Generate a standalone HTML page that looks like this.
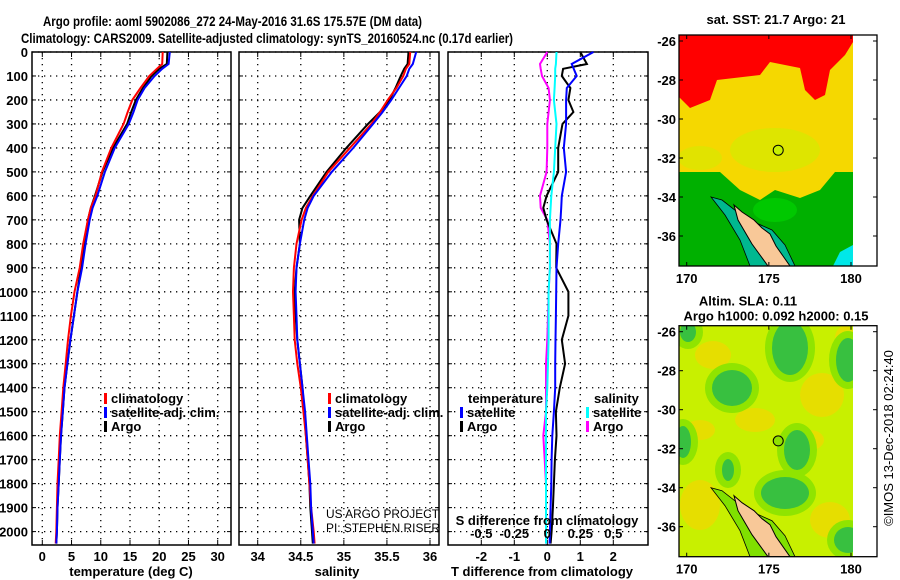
<!DOCTYPE html>
<html><head><meta charset="utf-8"><style>
html,body{margin:0;padding:0;background:#fff;}
svg{display:block;font-family:"Liberation Sans",sans-serif;}
.b{font-weight:bold;}
</style></head><body>
<svg id="fig" width="900" height="580" viewBox="0 0 900 580">
<text x="43" y="26" class="b" font-size="14" textLength="379" lengthAdjust="spacingAndGlyphs">Argo profile: aoml 5902086_272 24-May-2016 31.6S 175.57E (DM data)</text>
<text x="21" y="43" class="b" font-size="14" textLength="492" lengthAdjust="spacingAndGlyphs">Climatology: CARS2009. Satellite-adjusted climatology: synTS_20160524.nc (0.17d earlier)</text>
<g id="panels"></g>
<g id="maps"></g>
<text transform="translate(893,438) rotate(-90)" text-anchor="middle" font-size="13">©IMOS 13-Dec-2018 02:24:40</text>
</svg>
<script>
// ---- data ----
const depths = [0,50,70,100,150,200,250,300,400,500,600,650,700,800,900,1000,1100,1200,1300,1400,1500,1600,1700,1800,1900,2000,2050];
const tempArgo = [21.4,21.3,20.0,18.7,17.2,16.0,15.2,14.5,12.1,10.3,9.0,8.3,7.8,7.2,6.6,6.0,5.4,4.8,4.3,3.8,3.5,3.2,3.0,2.8,2.6,2.5,2.4];
const tempClim = [20.6,20.5,19.6,18.3,16.8,15.4,14.6,13.9,11.8,10.2,9.1,8.3,7.8,7.0,6.4,5.5,4.9,4.4,4.0,3.6,3.3,3.0,2.8,2.6,2.5,2.4,2.3];
const tempSat = [21.8,21.6,20.5,19.2,17.5,16.3,15.6,14.8,12.4,10.7,9.4,8.6,8.1,7.4,6.8,6.0,5.4,4.8,4.3,3.8,3.5,3.2,3.0,2.8,2.6,2.5,2.4];
const salArgo = [35.75,35.74,35.7,35.66,35.6,35.53,35.42,35.28,35.03,34.80,34.61,34.52,34.48,34.49,34.45,34.43,34.44,34.46,34.49,34.52,34.54,34.56,34.58,34.6,34.61,34.63,34.64];
const salClim = [35.77,35.76,35.72,35.69,35.61,35.51,35.42,35.32,35.07,34.82,34.64,34.56,34.51,34.45,34.42,34.41,34.42,34.43,34.46,34.5,34.53,34.56,34.58,34.6,34.62,34.65,34.66];
const salSat = [35.84,35.8,35.76,35.73,35.64,35.55,35.45,35.34,35.11,34.86,34.65,34.58,34.54,34.49,34.45,34.44,34.45,34.46,34.49,34.52,34.55,34.57,34.59,34.61,34.62,34.64,34.65];
const dTsat = [1.4,0.74,0.8,0.89,0.59,0.57,0.57,0.57,0.5,0.57,0.44,0.42,0.4,0.33,0.28,0.27,0.26,0.25,0.24,0.24,0.2,0.15,0.13,0.12,0.1,0.08,0.07];
const dTargo = [1.0,1.2,0.48,0.44,0.7,0.64,0.79,0.46,0.33,0.33,-0.02,-0.12,-0.02,0.28,0.27,0.64,0.64,0.44,0.54,0.38,0.26,0.28,0.23,0.2,0.17,0.13,0.1];
const dSsat = [0.07,0.065,0.06,0.06,0.055,0.05,0.06,0.07,0.06,0.05,0.03,0.025,0.02,0.02,0.02,0.01,0.01,0.01,0.005,0.0,-0.01,-0.01,-0.01,-0.01,-0.01,-0.01,-0.01];
const dSargo = [0.0,-0.055,-0.05,-0.04,0.01,0.02,0.01,0.0,0.0,-0.005,-0.055,-0.05,0.0,0.02,0.02,0.01,0.005,0.0,-0.01,-0.01,-0.01,-0.03,-0.02,-0.01,-0.01,-0.01,-0.01];
const depthTicks = [0,100,200,300,400,500,600,700,800,900,1000,1100,1200,1300,1400,1500,1600,1700,1800,1900,2000];
const tempTicks = [0,5,10,15,20,25,30];
const salTicks = [34,34.5,35,35.5,36];
const dTTicks = [-2,-1,0,1,2];
const dSTicks = [-0.5,-0.25,0,0.25,0.5];
const latTicks = [-26,-28,-30,-32,-34,-36];
const lonTicks = [170,175,180];

const NS="http://www.w3.org/2000/svg";
function mk(tag,attrs,parent,txt){const e=document.createElementNS(NS,tag);for(const k in attrs)e.setAttribute(k,attrs[k]);if(txt!==undefined)e.textContent=txt;parent.appendChild(e);return e;}
const panels=document.getElementById('panels');
const TOP=52,BOT=545;
function yD(d){return TOP+d*0.2398;}
function lin(v0,p0,v1,p1){return v=>p0+(v-v0)*(p1-p0)/(v1-v0);}
function frame(x0,x1,name,xTicks,xf,tickFmt){
  const g=mk('g',{},panels);
  
  
  depthTicks.forEach(d=>{const y=yD(d);
    const l=mk('line',{x1:x0,x2:x1,y1:y,y2:y,stroke:'#000','stroke-width':1.3,'stroke-dasharray':'1.3,4.7'},g);
    
    
    mk('line',{x1:x0,x2:x0+4,y1:y,y2:y,stroke:'#000'},g);mk('line',{x1:x1-4,x2:x1,y1:y,y2:y,stroke:'#000'},g);});
  xTicks.forEach(t=>{const x=xf(t);
    const l=mk('line',{x1:x,x2:x,y1:TOP,y2:BOT,stroke:'#000','stroke-width':1.3,'stroke-dasharray':'1.3,4.7'},g);
    
    
    mk('line',{x1:x,x2:x,y1:TOP,y2:TOP+5,stroke:'#000'},g);mk('line',{x1:x,x2:x,y1:BOT-5,y2:BOT,stroke:'#000'},g);
    if(tickFmt){const tx=mk('text',{x:x,y:561,'text-anchor':'middle','font-size':13,'class':'b'},g,tickFmt(t));
      
      }
  });
  const r=mk('rect',{x:x0,y:TOP,width:x1-x0,height:BOT-TOP,fill:'none',stroke:'#000','stroke-width':1.5},g);
  
  
  return g;
}
function series(g,vals,xf,color,name,w){
  let pts=vals.map((v,i)=>xf(v).toFixed(1)+','+yD(depths[i]).toFixed(1)).join(' ');
  const p=mk('polyline',{points:pts,fill:'none',stroke:color,'stroke-width':w||2,'stroke-linejoin':'miter'},g);
  
  
}
function legend(g,x,y,color,label,name){
  mk('rect',{x:x,y:y-10,width:3,height:11,fill:color},g);
  const t=mk('text',{x:x+7,y:y,'font-size':13,'class':'b'},g,label);
  
  
}
depthTicks.forEach(d=>{const t=mk('text',{x:28,y:yD(d)+5,'text-anchor':'end','font-size':13,'class':'b'},panels,String(d));
  
  });
const xT=lin(0,42.3,30,217.7);
const g1=frame(32,231,'temperature-panel',tempTicks,xT,t=>String(t));
series(g1,tempArgo,xT,'#000','temp-argo-line');
series(g1,tempClim,xT,'#f00','temp-climatology-line');
series(g1,tempSat,xT,'#00f','temp-satellite-line');
legend(g1,104,403,'#f00','climatology','legend-climatology');
legend(g1,104,417,'#00f','satellite-adj. clim.','legend-satellite');
legend(g1,104,431,'#000','Argo','legend-argo');
let tt=mk('text',{x:131,y:576,'text-anchor':'middle','font-size':13,'class':'b'},g1,'temperature (deg C)');

const xS=lin(34,257.7,36,430);
const g2=frame(239,439,'salinity-panel',salTicks,xS,t=>String(t));
series(g2,salArgo,xS,'#000','sal-argo-line');
series(g2,salClim,xS,'#f00','sal-climatology-line');
series(g2,salSat,xS,'#00f','sal-satellite-line');
legend(g2,328,403,'#f00','climatology','legend-climatology-2');
legend(g2,328,417,'#00f','satellite-adj. clim.','legend-satellite-2');
legend(g2,328,431,'#000','Argo','legend-argo-2');
tt=mk('text',{x:337,y:576,'text-anchor':'middle','font-size':13,'class':'b'},g2,'salinity');

tt=mk('text',{x:326,y:518,'font-size':12,textLength:113,lengthAdjust:'spacingAndGlyphs'},g2,'US ARGO PROJECT');

tt=mk('text',{x:326,y:532,'font-size':12,textLength:114,lengthAdjust:'spacingAndGlyphs'},g2,'PI: STEPHEN RISER');

const xdT=lin(0,547.3,2,613.3), xdS=lin(0,547.3,0.5,613.3);
const g3=frame(448,648,'difference-panel',dTTicks,xdT,t=>String(t));
series(g3,dSargo,xdS,'#f0f','sal-diff-argo-line');
series(g3,dTargo,xdT,'#000','temp-diff-argo-line');
series(g3,dTsat,xdT,'#00f','temp-diff-satellite-line');
series(g3,dSsat,xdS,'#0ff','sal-diff-satellite-line');
dSTicks.forEach(s=>{const t=mk('text',{x:xdS(s),y:538,'text-anchor':'middle','font-size':13,'class':'b'},g3,String(s));
  });
tt=mk('text',{x:547,y:525,'text-anchor':'middle','font-size':13,'class':'b'},g3,'S difference from climatology');

tt=mk('text',{x:542,y:576,'text-anchor':'middle','font-size':13,'class':'b'},g3,'T difference from climatology');

tt=mk('text',{x:468,y:403,'font-size':13,'class':'b'},g3,'temperature');

legend(g3,460,417,'#00f','satellite','legend-temp-satellite');
legend(g3,460,431,'#000','Argo','legend-temp-argo');
tt=mk('text',{x:594,y:403,'font-size':13,'class':'b'},g3,'salinity');

legend(g3,586,417,'#0ff','satellite','legend-sal-satellite');
legend(g3,586,431,'#f0f','Argo','legend-sal-argo');

const maps=document.getElementById('maps');
function drawMap(oy,name,title1,title2,kind){
  const g=mk('g',{},maps);
  
  
  const lon=lin(170,686.7,180,851), lat=lin(-26,oy+41,-36,oy+236);
  const top=oy+35,bot=oy+266;
  const cid='clip'+Math.round(oy);
  const cp=mk('clipPath',{id:cid},g);mk('rect',{x:679,y:top,width:174,height:bot-top},cp);
  const m=mk('g',{'clip-path':'url(#'+cid+')'},g);
  if(kind==='sst'){
    mk('rect',{x:679,y:top,width:174,height:bot-top,fill:'#00b000'},m);
    mk('polygon',{points:`679,${oy+35} 853,${oy+35} 853,${oy+172} 835,${oy+172} 820,${oy+190} 800,${oy+198} 775,${oy+190} 760,${oy+200} 740,${oy+190} 720,${oy+172} 679,${oy+172}`,fill:'#f5d800'},m);
    mk('ellipse',{cx:775,cy:oy+150,rx:45,ry:22,fill:'#d8e800',opacity:0.8},m);
    mk('ellipse',{cx:700,cy:oy+158,rx:22,ry:12,fill:'#d8e800',opacity:0.7},m);
    mk('polygon',{points:`679,${oy+35} 853,${oy+35} 853,${oy+42} 845,${oy+55} 830,${oy+70} 825,${oy+95} 815,${oy+100} 805,${oy+90} 800,${oy+68} 770,${oy+62} 760,${oy+75} 717,${oy+80} 710,${oy+100} 690,${oy+108} 679,${oy+97}`,fill:'#ff0000'},m);
    mk('ellipse',{cx:775,cy:oy+210,rx:22,ry:12,fill:'#00c800'},m);
    mk('polygon',{points:`833,${oy+266} 840,${oy+252} 853,${oy+245} 853,${oy+266}`,fill:'#00e8e8'},m);
  } else {
    mk('rect',{x:679,y:top,width:174,height:bot-top,fill:'#c8f000'},m);
    [[713,355,18,14],[822,395,22,22],[700,505,20,25],[830,520,20,18],[755,420,20,12],[810,440,14,10],[845,338,10,12],[700,430,15,10]].forEach(o=>mk('ellipse',{cx:o[0],cy:o[1],rx:o[2],ry:o[3],fill:'#f0d800',opacity:0.75},m));
    [[732,388,20,18],[790,348,18,27],[848,360,12,22],[797,450,13,20],[683,442,8,16],[785,493,24,16],[848,540,14,13],[728,470,6,11],[688,332,8,10]].forEach(o=>{
      mk('ellipse',{cx:o[0],cy:o[1],rx:o[2]+7,ry:o[3]+7,fill:'#90e400'},m);
      mk('ellipse',{cx:o[0],cy:o[1],rx:o[2],ry:o[3],fill:'#38c040'},m);});
  }
  const sh=`711,${oy+197} 722,${oy+200} 745,${oy+218} 772,${oy+230} 785,${oy+245} 795,${oy+266} 750,${oy+266} 740,${oy+240} 725,${oy+215}`;
  mk('polygon',{points:sh,fill:kind==='sst'?'#00b890':'#80e000',stroke:'#000','stroke-width':0.8},m);
  const ld=`734,${oy+205} 742,${oy+212} 754,${oy+220} 762,${oy+228} 770,${oy+234} 776,${oy+246} 783,${oy+256} 790,${oy+266} 768,${oy+266} 760,${oy+255} 752,${oy+244} 745,${oy+232} 738,${oy+220}`;
  const land=mk('polygon',{points:ld,fill:'#f8c898',stroke:'#000','stroke-width':1},m);
  
  
  mk('rect',{x:853,y:top,width:24,height:bot-top,fill:'#fff'},g);
  const c=mk('circle',{cx:lon(175.57),cy:lat(-31.6),r:5,fill:kind==='sst'?'#c8f000':'#90e000',stroke:'#000','stroke-width':1},g);
  
  
  mk('rect',{x:679,y:top,width:198,height:bot-top,fill:'none',stroke:'#000','stroke-width':1.3},g);
  latTicks.forEach(l=>{const y=lat(l);mk('line',{x1:679,x2:683,y1:y,y2:y,stroke:'#000'},g);mk('line',{x1:873,x2:877,y1:y,y2:y,stroke:'#000'},g);
    const t=mk('text',{x:676,y:y+5,'text-anchor':'end','font-size':13,'class':'b'},g,String(l));
    });
  lonTicks.forEach(l=>{const x=lon(l);mk('line',{x1:x,x2:x,y1:top,y2:top+4,stroke:'#000'},g);mk('line',{x1:x,x2:x,y1:bot-4,y2:bot,stroke:'#000'},g);
    const t=mk('text',{x:x,y:bot+17,'text-anchor':'middle','font-size':13,'class':'b'},g,String(l));
    });
  let t=mk('text',{x:title2?748:776,y:title2?oy+15:oy+24,'text-anchor':'middle','font-size':13,'class':'b'},g,title1);
  
  if(title2){t=mk('text',{x:776,y:oy+30,'text-anchor':'middle','font-size':13,'class':'b'},g,title2);
    }
}
drawMap(0,'sst-map','sat. SST: 21.7 Argo: 21',null,'sst');
drawMap(290.7,'sla-map','Altim. SLA: 0.11','Argo h1000: 0.092 h2000: 0.15','sla');
</script>
</body></html>
